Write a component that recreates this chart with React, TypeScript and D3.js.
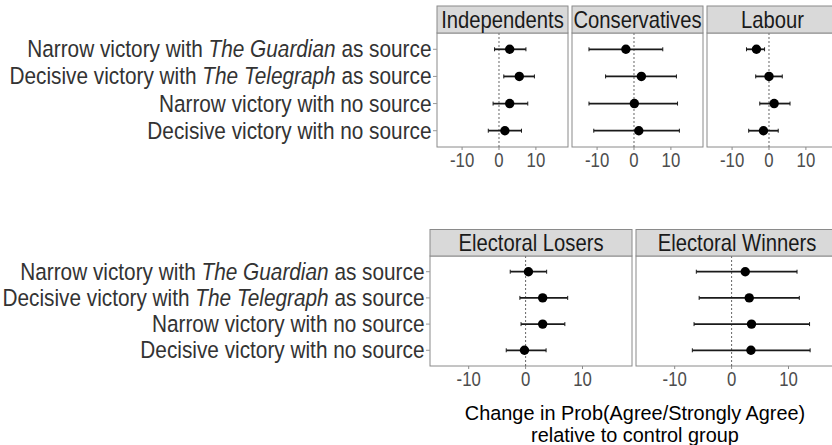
import React from 'react';
import * as d3 from 'd3';

// row labels: plain start, italic source name, plain tail
const labelHead = ['Narrow victory with ', 'Decisive victory with ', 'Narrow victory with no source', 'Decisive victory with no source'];
const labelItalic = ['The Guardian', 'The Telegraph', '', ''];
const labelTail = [' as source', ' as source', '', ''];
const rowKeys = ['narrowGuardian', 'decisiveTelegraph', 'narrowNone', 'decisiveNone'];

const xTicks = [-10, 0, 10];
const xDomain = [-16.8, 18.7];
const axisTitle = ['Change in Prob(Agree/Strongly Agree)', 'relative to control group'];

// point estimates and 95% intervals, one entry per row
const indepEst = [2.9, 5.5, 2.9, 1.6];
const indepLo = [-1.2, 1.3, -1.6, -2.9];
const indepHi = [7.3, 9.6, 7.8, 6.1];

const consEst = [-2.2, 2.0, 0.1, 1.3];
const consLo = [-12.2, -7.7, -12.2, -10.9];
const consHi = [7.8, 11.5, 11.8, 12.3];

const labEst = [-3.4, 0.0, 1.4, -1.5];
const labLo = [-6.1, -3.6, -2.5, -5.5];
const labHi = [-1.2, 3.6, 5.7, 2.5];

const loseEst = [0.5, 3.0, 3.0, -0.2];
const loseLo = [-2.7, -1.0, -0.8, -3.4];
const loseHi = [3.7, 7.4, 6.9, 3.6];

const winEst = [2.4, 3.1, 3.5, 3.4];
const winLo = [-6.2, -5.7, -6.6, -6.9];
const winHi = [11.5, 11.9, 13.7, 13.8];

const FONT = '"Liberation Sans", Arial, Helvetica, sans-serif';
const BORDER = '#8a8a8a';

interface PanelData { title: string; est: number[]; lo: number[]; hi: number[] }

const topPanels: PanelData[] = [
  { title: 'Independents', est: indepEst, lo: indepLo, hi: indepHi },
  { title: 'Conservatives', est: consEst, lo: consLo, hi: consHi },
  { title: 'Labour', est: labEst, lo: labLo, hi: labHi },
];
const bottomPanels: PanelData[] = [
  { title: 'Electoral Losers', est: loseEst, lo: loseLo, hi: loseHi },
  { title: 'Electoral Winners', est: winEst, lo: winLo, hi: winHi },
];

// squeezed text, the figure's type is a little narrow
function SText({ x, y, size, sx = 0.9, anchor = 'middle', fill = '#1a1a1a', children }: any) {
  return (
    <g transform={`translate(${x},${y}) scale(${sx},1)`}>
      <text x={0} y={0} fontSize={size} textAnchor={anchor} fill={fill} fontFamily={FONT}>{children}</text>
    </g>
  );
}

function Panel({ d, left, width, stripTop, stripH, bottom }: { d: PanelData; left: number; width: number; stripTop: number; stripH: number; bottom: number }) {
  const top = stripTop + stripH;
  const x = d3.scaleLinear().domain(xDomain).range([left, left + width]);
  const y = d3.scalePoint<string>().domain(rowKeys).range([top, bottom]).padding(0.6);
  return (
    <g>
      <rect x={left} y={top} width={width} height={bottom - top} fill="#fff" stroke={BORDER} strokeWidth={1} />
      <line x1={x(0)} x2={x(0)} y1={top} y2={bottom} stroke="#555" strokeWidth={0.9} strokeDasharray="2,2" />
      {rowKeys.map((k, i) => {
        const cy = y(k)!;
        return (
          <g key={k}>
            <line x1={x(d.lo[i])} x2={x(d.hi[i])} y1={cy} y2={cy} stroke="#1a1a1a" strokeWidth={1.8} />
            <line x1={x(d.lo[i])} x2={x(d.lo[i])} y1={cy - 2} y2={cy + 2} stroke="#1a1a1a" strokeWidth={1} />
            <line x1={x(d.hi[i])} x2={x(d.hi[i])} y1={cy - 2} y2={cy + 2} stroke="#1a1a1a" strokeWidth={1} />
            <circle cx={x(d.est[i])} cy={cy} r={4.7} fill="#000" />
          </g>
        );
      })}
      {xTicks.map(t => (
        <g key={t}>
          <line x1={x(t)} x2={x(t)} y1={bottom} y2={bottom + 3} stroke={BORDER} strokeWidth={1} />
          <SText x={x(t)} y={bottom + 20} size={19.5} sx={0.86} fill="#4d4d4d">{t}</SText>
        </g>
      ))}
      <rect x={left} y={stripTop} width={width} height={stripH} fill="#d9d9d9" stroke={BORDER} strokeWidth={1} />
      <SText x={left + width / 2} y={stripTop + stripH - 5} size={23} sx={0.88}>{d.title}</SText>
    </g>
  );
}

function RowLabels({ right, top, bottom }: { right: number; top: number; bottom: number }) {
  const y = d3.scalePoint<string>().domain(rowKeys).range([top, bottom]).padding(0.6);
  return (
    <g>
      {rowKeys.map((k, i) => (
        <g key={k}>
          <line x1={right - 4} x2={right} y1={y(k)!} y2={y(k)!} stroke="#999" strokeWidth={1} />
          <g transform={`translate(${right - 5.5},${y(k)! + 8}) scale(0.9,1)`}>
            <text x={0} y={0} fontSize={23.1} textAnchor="end" fill="#333" fontFamily={FONT}>
              <tspan>{labelHead[i]}</tspan>
              {labelItalic[i] && <tspan fontStyle="italic">{labelItalic[i]}</tspan>}
              {labelTail[i] && <tspan>{labelTail[i]}</tspan>}
            </text>
          </g>
        </g>
      ))}
    </g>
  );
}

export default function App() {
  const W = 832, H = 445;
  const topLefts = [437, 572, 707];
  const botLefts = [430, 636];
  return (
    <svg width={W} height={H} style={{ position: 'absolute', left: 0, top: 0, background: '#fff' }}>
      <rect width={W} height={H} fill="#fff" />
      {topPanels.map((p, i) => (
        <Panel key={p.title} d={p} left={topLefts[i]} width={131} stripTop={6} stripH={27} bottom={147} />
      ))}
      <RowLabels right={437} top={33} bottom={147} />
      {bottomPanels.map((p, i) => (
        <Panel key={p.title} d={p} left={botLefts[i]} width={202} stripTop={229.5} stripH={26.5} bottom={366} />
      ))}
      <RowLabels right={430} top={256} bottom={366} />
      <SText x={635} y={419.5} size={19.5} sx={1.02} fill="#000">{axisTitle[0]}</SText>
      <SText x={635} y={441.5} size={19.5} sx={1.02} fill="#000">{axisTitle[1]}</SText>
    </svg>
  );
}
